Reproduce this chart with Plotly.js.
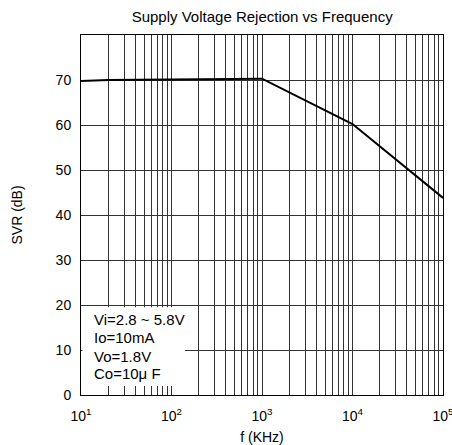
<!DOCTYPE html>
<html><head><meta charset="utf-8">
<script src="https://cdn.plot.ly/plotly-3.0.1.min.js"></script>
<style>html,body{margin:0;padding:0;background:#fff}#chart{width:452px;height:445px}</style>
</head><body><div id="chart"></div>
<script>
const freqKHz = [10, 20, 1000, 10000, 100000];
const svrDb = [69.8, 70.0, 70.3, 60.2, 43.8];
const xTickVals = [10, 100, 1000, 10000, 100000];
const xTickText = ['10<sup>1</sup>', '10<sup>2</sup>', '10<sup>3</sup>', '10<sup>4</sup>', '10<sup>5</sup>'];
const yTickVals = [0, 10, 20, 30, 40, 50, 60, 70];
const noteLines = ['Vi=2.8 ~ 5.8V', 'Io=10mA', 'Vo=1.8V', 'Co=10μ F'];
const noteY = [16.7, 12.7, 8.5, 4.7];

const font = {family: 'Liberation Sans, Arial, sans-serif', color: '#000'};
const gridColor = '#333';

const annotations = noteLines.map((t, i) => ({
  xref: 'paper', yref: 'y', x: 0.03, y: noteY[i], xanchor: 'left', yanchor: 'middle',
  text: t, showarrow: false, font: Object.assign({size: 15}, font)
}));

Plotly.newPlot('chart', [{
  x: freqKHz, y: svrDb, type: 'scatter', mode: 'lines',
  line: {color: '#000', width: 2}, hoverinfo: 'skip'
}], {
  width: 452, height: 445,
  margin: {l: 81, r: 9, t: 35, b: 50},
  paper_bgcolor: '#fff', plot_bgcolor: '#fff',
  showlegend: false,
  title: {text: 'Supply Voltage Rejection vs Frequency', font: Object.assign({size: 15}, font), x: 0.58, xanchor: 'center', y: 0.975, yanchor: 'top'},
  xaxis: {
    type: 'log', range: [1, 5], tickmode: 'array', tickvals: xTickVals, ticktext: xTickText,
    showgrid: true, gridcolor: gridColor, gridwidth: 1,
    minor: {dtick: 'D1', showgrid: true, gridcolor: gridColor, gridwidth: 1, ticks: ''},
    ticks: '', tickfont: Object.assign({size: 14}, font), ticklabeloverflow: 'allow', ticklabelstandoff: 8,
    showline: true, linecolor: '#000', linewidth: 1, mirror: true, zeroline: false,
    title: {text: 'f (KHz)', font: Object.assign({size: 14}, font), standoff: 10}
  },
  yaxis: {
    range: [0, 80], tickmode: 'array', tickvals: yTickVals,
    showgrid: true, gridcolor: gridColor, gridwidth: 1,
    ticks: '', tickfont: Object.assign({size: 14}, font), ticklabelstandoff: 6,
    showline: true, linecolor: '#000', linewidth: 1, mirror: true, zeroline: false,
    title: {text: 'SVR (dB)', font: Object.assign({size: 14}, font), standoff: 29}
  },
  shapes: [{
    type: 'rect', xref: 'paper', yref: 'y', x0: 0.004, x1: 0.287, y0: 2.0, y1: 19.5,
    fillcolor: '#fff', line: {width: 0}, layer: 'above'
  }],
  annotations: annotations
}, {staticPlot: true});
</script>
</body></html>
